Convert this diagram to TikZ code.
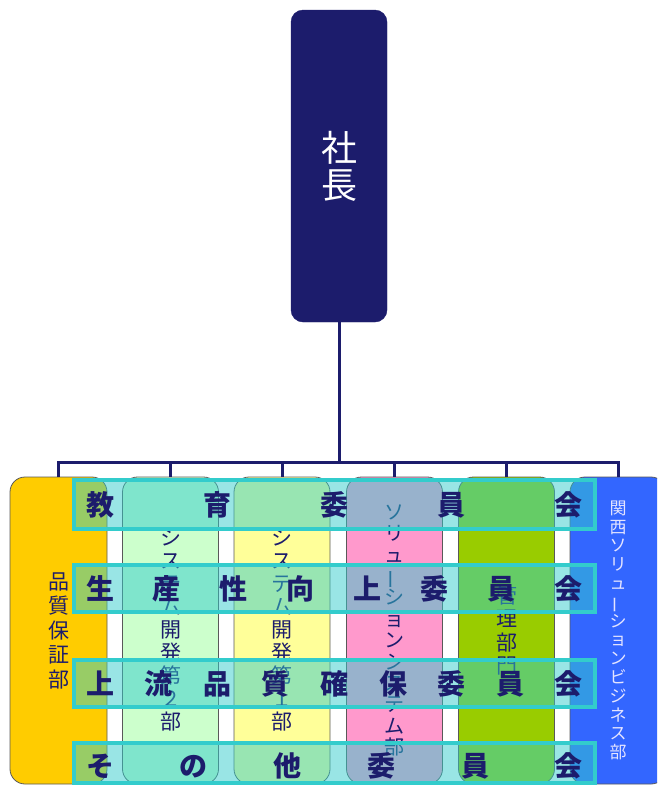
\documentclass[tikz,border=0pt]{standalone}
\usepackage{fontspec}
\newfontfamily\jp{Noto Sans CJK JP}
\definecolor{navy}{RGB}{28,28,108}
\definecolor{corange}{RGB}{255,204,0}
\definecolor{clgreen}{RGB}{204,255,204}
\definecolor{cyellow}{RGB}{255,255,153}
\definecolor{cpink}{RGB}{255,153,204}
\definecolor{cygreen}{RGB}{153,204,0}
\definecolor{cblue}{RGB}{51,102,255}
\definecolor{barcyan}{RGB}{51,204,204}
\definecolor{ltext}{RGB}{228,228,255}
\newcommand\tatebou{\rotatebox[origin=c]{90}{ー}}
\tikzset{
  presbox/.style={fill=navy, draw=navy, rounded corners=12pt, text=white,
    font=\jp\fontsize{36}{37}\selectfont, align=center, inner sep=0pt,
    minimum width=96pt, minimum height=312pt},
  colbox/.style={draw=black!65, line width=0.8pt, rounded corners=15pt,
    minimum width=96pt, minimum height=307pt, align=center, inner sep=0pt, text=navy},
  conn/.style={draw=navy, line width=3pt, line join=miter},
  barbox/.style={draw=barcyan, line width=4pt, fill=barcyan, fill opacity=0.5,
    draw opacity=1, minimum width=521pt, inner sep=0pt},
  bartext/.style={text=navy, inner sep=0pt, font=\jp\bfseries\fontsize{28}{30}\selectfont}
}
\begin{document}
\begin{tikzpicture}[x=1pt,y=-1pt]
\useasboundingbox (0,0) rectangle (657,785);
\clip (0,0) rectangle (657,785);
% president
\node[presbox] (pres) at (339,166) {社\\長};
% columns
\node[colbox, fill=corange, minimum width=97pt, font=\jp\fontsize{21}{24.5}\selectfont] (c1) at (58.5,630.5) {品\\質\\保\\証\\部};
\node[colbox, fill=clgreen, font=\jp\fontsize{21}{23}\selectfont] (c2) at (170.5,630.5) {シ\\ス\\テ\\ム\\開\\発\\第\\２\\部};
\node[colbox, fill=cyellow, font=\jp\fontsize{21}{23}\selectfont] (c3) at (282,630.5) {シ\\ス\\テ\\ム\\開\\発\\第\\１\\部};
\node[colbox, fill=cpink, font=\jp\fontsize{20}{21.4}\selectfont] (c4) at (394.5,630.5) {ソ\\リ\\ュ\\\tatebou\\シ\\ョ\\ン\\シ\\ス\\テ\\ム\\部};
\node[colbox, fill=cygreen, font=\jp\fontsize{21}{23.5}\selectfont] (c5) at (506.5,630.5) {管\\理\\部\\門};
\node[colbox, fill=cblue, text=ltext, font=\jp\fontsize{17}{18.8}\selectfont] (c6) at (618,630.5) {関\\西\\ソ\\リ\\ュ\\\tatebou\\シ\\ョ\\ン\\ビ\\ジ\\ネ\\ス\\部};
% connectors
\coordinate (bus) at (339,462);
\draw[conn] (pres.south) -- (bus);
\draw[conn] (c1.north) -- (bus -| c1.north) -- (bus -| c6.north) -- (c6.north);
\foreach \c in {c2,c3,c4,c5} \draw[conn] (bus -| \c.north) -- (\c.north);
% committee bars
\node[barbox, minimum height=49pt] (b1) at (334.5,504.5) {};
\node[barbox, minimum height=47pt] (b2) at (334.5,588.5) {};
\node[barbox, minimum height=47pt] (b3) at (334.5,683.5) {};
\node[barbox, minimum height=40pt] (b4) at (334.5,763) {};
\node[bartext] (t1) at (b1.center) {\hbox to 497pt{教\hfill 育\hfill 委\hfill 員\hfill 会}};
\node[bartext] (t2) at (b2.center) {\hbox to 497pt{生\hfill 産\hfill 性\hfill 向\hfill 上\hfill 委\hfill 員\hfill 会}};
\node[bartext] (t3) at (b3.center) {\hbox to 497pt{上\hfill 流\hfill 品\hfill 質\hfill 確\hfill 保\hfill 委\hfill 員\hfill 会}};
\node[bartext] (t4) at ([yshift=-3pt]b4.center) {\hbox to 497pt{そ\hfill の\hfill 他\hfill 委\hfill 員\hfill 会}};
\end{tikzpicture}
\end{document}
